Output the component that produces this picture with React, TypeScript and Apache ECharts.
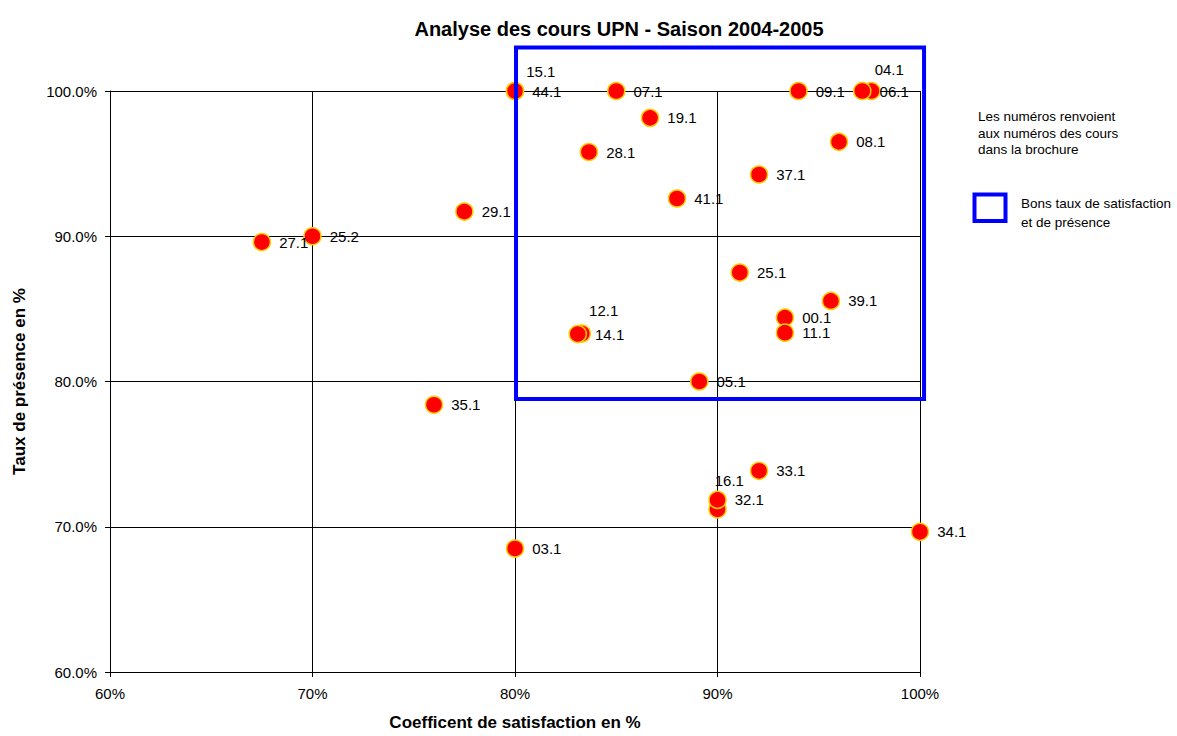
import React, { useEffect, useRef } from "react";
import * as echarts from "echarts";

const courseIds = ["00.1","03.1","04.1","05.1","06.1","07.1","08.1","09.1","11.1","12.1","14.1","15.1","16.1","19.1","25.1","25.2","27.1","28.1","29.1","32.1","33.1","34.1","35.1","37.1","39.1","41.1","44.1"];
const satisfaction = [93.33,80.0,97.6,89.1,97.15,85.0,96.0,94.0,93.33,83.3,83.1,80.0,90.0,86.67,91.1,70.0,67.5,83.65,77.5,90.0,92.05,100.0,76.0,92.05,95.6,88.0,80.0];
const presence = [84.4,68.5,100.0,80.0,100.0,100.0,96.5,100.0,83.36,83.3,83.27,100.0,71.2,98.15,87.5,90.0,89.6,95.8,91.7,71.85,73.85,69.65,78.4,94.25,85.55,92.6,100.0];
// custom label offsets (relative to the default right-side label)
const labelOffsets: Record<string, [number, number]> = {
  "15.1": [-6, -20],
  "04.1": [-14, -22],
  "12.1": [-10, -23],
  "16.1": [-20, -29],
};

const xTicks = [60, 70, 80, 90, 100];
const yTicks = [60, 70, 80, 90, 100];
// blue highlight box bounds in data units: [xMin, xMax, yMin, yMax]
const boxBounds = [80.05, 100.2, 78.8, 103.0];

const FONT = "'Liberation Sans', Arial, sans-serif";

export default function App() {
  const ref = useRef<HTMLDivElement>(null);
  useEffect(() => {
    if (!ref.current) return;
    const chart = echarts.init(ref.current, null, { renderer: "svg" });
    const data = courseIds.map((id, i) => {
      const off = labelOffsets[id];
      const item: any = { name: id, value: [satisfaction[i], presence[i]] };
      if (off) item.label = { offset: off };
      return item;
    });
    chart.setOption({
      animation: false,
      backgroundColor: "#ffffff",
      textStyle: { fontFamily: FONT },
      title: {
        text: "Analyse des cours UPN - Saison 2004-2005",
        left: 614,
        top: 14,
        textAlign: "center",
        textStyle: { fontFamily: FONT, fontSize: 20, fontWeight: "bold", color: "#000" },
      },
      grid: { left: 110, right: 257, top: 91, bottom: 60, containLabel: false },
      xAxis: {
        type: "value",
        min: xTicks[0],
        max: xTicks[xTicks.length - 1],
        interval: 10,
        name: "Coefficent de satisfaction en %",
        nameLocation: "middle",
        nameGap: 42,
        nameTextStyle: { fontFamily: FONT, fontSize: 17, fontWeight: "bold", color: "#000" },
        axisLine: { show: true, lineStyle: { color: "#000", width: 1 } },
        axisTick: { show: true, length: 5, lineStyle: { color: "#000" } },
        axisLabel: { formatter: (v: number) => `${v}%`, fontFamily: FONT, fontSize: 15, color: "#000", margin: 14 },
        splitLine: { show: true, lineStyle: { color: "#000", width: 1 } },
      },
      yAxis: {
        type: "value",
        min: yTicks[0],
        max: yTicks[yTicks.length - 1],
        interval: 10,
        name: "Taux de présence en %",
        nameLocation: "middle",
        nameGap: 82,
        nameTextStyle: { fontFamily: FONT, fontSize: 17, fontWeight: "bold", color: "#000" },
        axisLine: { show: true, lineStyle: { color: "#000", width: 1 } },
        axisTick: { show: true, length: 5, lineStyle: { color: "#000" } },
        axisLabel: { formatter: (v: number) => `${v.toFixed(1)}%`, fontFamily: FONT, fontSize: 15, color: "#000", margin: 13 },
        splitLine: { show: true, lineStyle: { color: "#000", width: 1 } },
      },
      series: [
        {
          type: "scatter",
          clip: false,
          symbol: "circle",
          symbolSize: 17,
          itemStyle: { color: "#ff0000", borderColor: "#ffcc00", borderWidth: 1.5, opacity: 1 },
          label: {
            show: true,
            position: "right",
            distance: 8,
            formatter: (p: any) => p.name,
            fontFamily: FONT,
            fontSize: 15,
            color: "#000",
          },
          data,
        },
      ],
    });
    const p1 = chart.convertToPixel({ gridIndex: 0 }, [boxBounds[0], boxBounds[3]]) as number[];
    const p2 = chart.convertToPixel({ gridIndex: 0 }, [boxBounds[1], boxBounds[2]]) as number[];
    chart.setOption({
      graphic: [
        {
          type: "rect",
          shape: { x: p1[0], y: p1[1], width: p2[0] - p1[0], height: p2[1] - p1[1] },
          style: { fill: "none", stroke: "#0000ff", lineWidth: 4 },
          z: 10,
        },
        {
          type: "text",
          left: 978,
          top: 108,
          style: {
            text: "Les numéros renvoient\naux numéros des cours\ndans la brochure",
            fontFamily: FONT,
            fontSize: 13.5,
            lineHeight: 16.7,
            fill: "#000",
          },
        },
        {
          type: "rect",
          shape: { x: 974.5, y: 194.5, width: 31, height: 26.5 },
          style: { fill: "#fff", stroke: "#0000ff", lineWidth: 4 },
        },
        {
          type: "text",
          left: 1021,
          top: 194,
          style: {
            text: "Bons taux de satisfaction\net de présence",
            fontFamily: FONT,
            fontSize: 13.5,
            lineHeight: 19,
            fill: "#000",
          },
        },
      ],
    });
    return () => chart.dispose();
  }, []);
  return <div ref={ref} style={{ position: "fixed", left: 0, top: 0, width: 1177, height: 736 }} />;
}
